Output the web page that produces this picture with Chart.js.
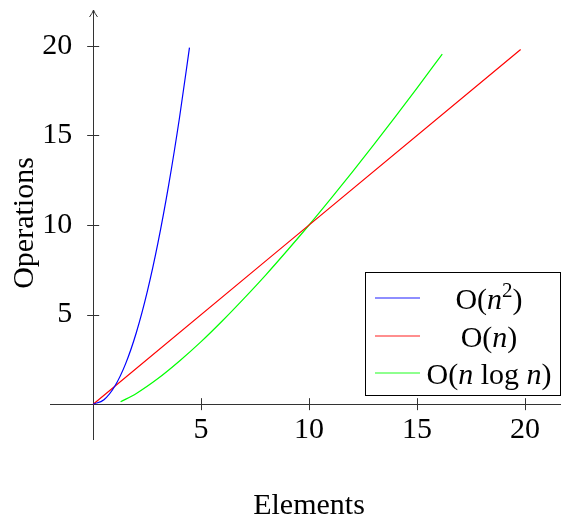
<!DOCTYPE html>
<html>
  <head>
    <meta charset="utf-8">
    <title>Complexity</title>
    <script src="https://cdn.jsdelivr.net/npm/chart.js@4.4.0/dist/chart.umd.min.js"></script>
    <style>
      body { margin: 0; background: #fff; }
      canvas { display: block; }
    </style>
  </head>
  <body>
    <canvas id="chart" width="561" height="518"></canvas>
    <script type="text/javascript">
      // values
      var quadX = [0, 0.5, 1, 1.5, 2, 2.5, 3, 3.5, 4, 4.46];
      var quadY = [0, 0.25, 1, 2.25, 4, 6.25, 9, 12.25, 16, 19.9];
      var linX = [0, 19.8];
      var linY = [0, 19.8];
      var nlogX = [1.27, 2, 3, 4, 5, 6, 7, 8, 9, 10, 11, 12, 13, 14, 15, 16.17];
      var nlogY = [0.13, 0.6, 1.43, 2.41, 3.49, 4.67, 5.92, 7.22, 8.59, 10, 11.46, 12.95, 14.48, 16.05, 17.64, 19.54];

      var seriesLabels = ['O(n²)', 'O(n)', 'O(n log n)'];
      var seriesColors = ['rgb(0, 0, 255)', 'rgb(255, 0, 0)', 'rgb(0, 255, 0)'];
      var legendColors = ['rgb(105, 105, 255)', 'rgb(255, 105, 105)', 'rgb(105, 255, 105)'];

      var xTicks = [5, 10, 15, 20];
      var yTicks = [5, 10, 15, 20];
      var xTitle = 'Elements';
      var yTitle = 'Operations';

      var serif = '"Liberation Serif", "DejaVu Serif", serif';

      function pts(xs, ys) {
        return xs.map(function (x, i) { return {x: x, y: ys[i]}; });
      }

      // draws "O(n log n)" style labels, italic n and raised 2
      function drawMath(ctx, text, cx, baseY) {
        var parts = [];
        for (var i = 0; i < text.length; i++) {
          var c = text[i];
          if (c === 'n') parts.push({t: c, f: 'italic 30px ' + serif, dy: 0});
          else if (c === '²') parts.push({t: '2', f: '21px ' + serif, dy: -12});
          else parts.push({t: c, f: '30px ' + serif, dy: 0});
        }
        var w = 0;
        parts.forEach(function (p) { ctx.font = p.f; p.w = ctx.measureText(p.t).width; w += p.w; });
        var x = cx - w / 2;
        ctx.textAlign = 'left';
        ctx.textBaseline = 'alphabetic';
        parts.forEach(function (p) {
          ctx.font = p.f;
          ctx.fillText(p.t, x, baseY + p.dy);
          x += p.w;
        });
      }

      function noPad(scale) {
        scale.paddingTop = 0;
        scale.paddingBottom = 0;
        scale.paddingLeft = 0;
        scale.paddingRight = 0;
      }

      var axesPlugin = {
        id: 'axesPlugin',
        beforeDatasetsDraw: function (chart) {
          var ctx = chart.ctx, xs = chart.scales.x, ys = chart.scales.y;
          var x0 = xs.getPixelForValue(0), y0 = ys.getPixelForValue(0);
          ctx.save();
          ctx.strokeStyle = '#333';
          ctx.lineWidth = 1;
          ctx.beginPath();
          ctx.moveTo(xs.left, Math.round(y0) + 0.5);
          ctx.lineTo(xs.right, Math.round(y0) + 0.5);
          ctx.moveTo(Math.round(x0) + 0.5, ys.bottom);
          ctx.lineTo(Math.round(x0) + 0.5, ys.top);
          // tick marks crossing the axes
          xTicks.forEach(function (v) {
            var px = Math.round(xs.getPixelForValue(v)) + 0.5;
            ctx.moveTo(px, y0 - 6);
            ctx.lineTo(px, y0 + 6);
          });
          yTicks.forEach(function (v) {
            var py = Math.round(ys.getPixelForValue(v)) + 0.5;
            ctx.moveTo(x0 - 6, py);
            ctx.lineTo(x0 + 6, py);
          });
          ctx.stroke();
          // arrow heads
          var tipY = ys.getPixelForValue(22), ax = Math.round(x0) + 0.5;
          ctx.beginPath();
          ctx.moveTo(ax - 4, tipY + 7);
          ctx.quadraticCurveTo(ax - 1, tipY + 3, ax, tipY);
          ctx.quadraticCurveTo(ax + 1, tipY + 3, ax + 4, tipY + 7);
          ctx.stroke();
          var tipX = xs.getPixelForValue(22), ay = Math.round(y0) + 0.5;
          ctx.beginPath();
          ctx.moveTo(tipX - 7, ay - 4);
          ctx.quadraticCurveTo(tipX - 3, ay - 1, tipX, ay);
          ctx.quadraticCurveTo(tipX - 3, ay + 1, tipX - 7, ay + 4);
          ctx.stroke();
          ctx.restore();
        },
        afterDraw: function (chart) {
          var ctx = chart.ctx;
          ctx.save();
          ctx.fillStyle = '#000';
          // axis titles
          ctx.font = '30px ' + serif;
          ctx.textAlign = 'center';
          ctx.textBaseline = 'alphabetic';
          ctx.fillText(xTitle, 309, 514);
          ctx.translate(33, 223);
          ctx.rotate(-Math.PI / 2);
          ctx.fillText(yTitle, 0, 0);
          ctx.restore();

          // legend box
          ctx.save();
          ctx.fillStyle = '#fff';
          ctx.fillRect(365.5, 272.5, 195, 123);
          ctx.strokeStyle = '#000';
          ctx.lineWidth = 1;
          ctx.strokeRect(365.5, 272.5, 195, 123);
          var rows = [298, 336, 373];
          chart.data.datasets.forEach(function (ds, i) {
            ctx.strokeStyle = legendColors[i];
            ctx.lineWidth = 1.4;
            ctx.beginPath();
            ctx.moveTo(375, rows[i]);
            ctx.lineTo(420, rows[i]);
            ctx.stroke();
            ctx.fillStyle = '#000';
            drawMath(ctx, ds.label, 489, rows[i] + 10.5);
          });
          ctx.restore();
        }
      };

      var ctx = document.getElementById('chart').getContext('2d');
      var chart = new Chart(ctx, {
        type: 'scatter',
        data: {
          datasets: [
            {label: seriesLabels[0], data: pts(quadX, quadY), borderColor: seriesColors[0]},
            {label: seriesLabels[1], data: pts(linX, linY), borderColor: seriesColors[1]},
            {label: seriesLabels[2], data: pts(nlogX, nlogY), borderColor: seriesColors[2]}
          ]
        },
        options: {
          responsive: false,
          animation: false,
          layout: {padding: {left: 50, right: 0, top: 10, bottom: 78}},
          elements: {
            point: {radius: 0, hoverRadius: 0},
            line: {borderWidth: 1.2, cubicInterpolationMode: 'monotone', fill: false}
          },
          datasets: {scatter: {showLine: true}},
          plugins: {legend: {display: false}, tooltip: {enabled: false}},
          scales: {
            x: {
              type: 'linear',
              position: {y: 0},
              min: -2,
              max: 21.67,
              grid: {display: false, drawTicks: false},
              border: {display: false},
              afterBuildTicks: function (scale) {
                scale.ticks = xTicks.map(function (v) { return {value: v}; });
              },
              afterFit: noPad,
              ticks: {padding: 8, color: '#000', font: {family: serif, size: 30}, maxRotation: 0}
            },
            y: {
              type: 'linear',
              position: {x: 0},
              min: -2,
              max: 22,
              grid: {display: false, drawTicks: false},
              border: {display: false},
              afterBuildTicks: function (scale) {
                scale.ticks = yTicks.map(function (v) { return {value: v}; });
              },
              afterFit: noPad,
              // labels of a centred y axis sit flush on the axis, so pad with spaces
              ticks: {
                color: '#000',
                font: {family: serif, size: 30},
                callback: function (v) { return v + '\u2002\u2009'; }
              }
            }
          }
        },
        plugins: [axesPlugin]
      });
    </script>
  </body>
</html>
